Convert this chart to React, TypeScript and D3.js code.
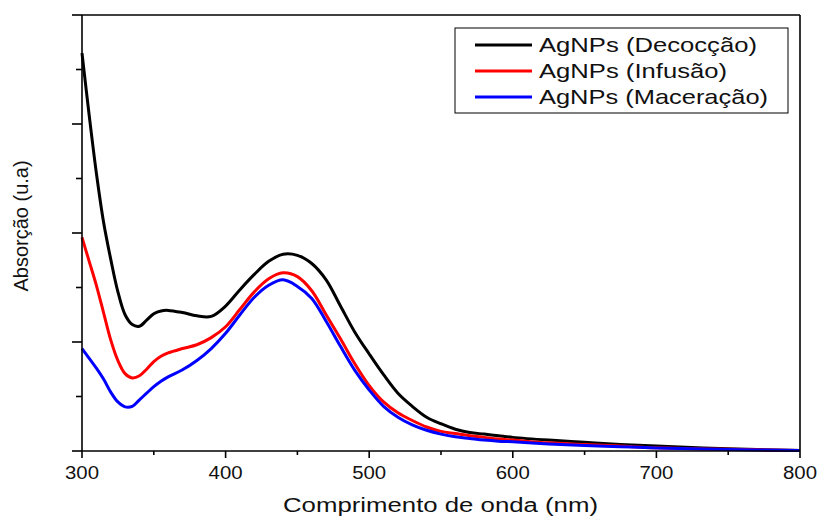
import React from 'react';
import * as d3 from 'd3';

// wavelengths (nm) and absorbance readings for each extraction method
const wavelengths = [300, 305, 310, 315, 320, 325, 330, 335, 340, 345, 350, 355, 360, 370, 380, 390, 400, 410, 420, 430, 440, 450, 460, 470, 480, 490, 500, 510, 520, 530, 540, 550, 560, 570, 580, 590, 600, 625, 650, 675, 700, 750, 800];

const decoccao = [3.65, 3.08, 2.55, 2.10, 1.76, 1.46, 1.25, 1.16, 1.145, 1.20, 1.26, 1.285, 1.29, 1.27, 1.24, 1.235, 1.33, 1.48, 1.62, 1.74, 1.805, 1.795, 1.72, 1.57, 1.33, 1.09, 0.89, 0.70, 0.53, 0.41, 0.31, 0.25, 0.20, 0.17, 0.155, 0.14, 0.125, 0.10, 0.08, 0.06, 0.045, 0.02, 0.005];

const infusao = [1.96, 1.74, 1.52, 1.27, 1.02, 0.83, 0.71, 0.67, 0.69, 0.75, 0.82, 0.87, 0.90, 0.94, 0.975, 1.04, 1.14, 1.30, 1.46, 1.58, 1.635, 1.60, 1.47, 1.25, 1.03, 0.80, 0.60, 0.45, 0.35, 0.28, 0.22, 0.18, 0.16, 0.14, 0.125, 0.11, 0.10, 0.075, 0.06, 0.045, 0.03, 0.015, 0.005];

const maceracao = [0.94, 0.85, 0.76, 0.66, 0.54, 0.45, 0.405, 0.41, 0.47, 0.53, 0.59, 0.64, 0.68, 0.745, 0.83, 0.94, 1.08, 1.25, 1.41, 1.52, 1.57, 1.51, 1.40, 1.19, 0.96, 0.74, 0.56, 0.41, 0.31, 0.24, 0.19, 0.155, 0.13, 0.115, 0.10, 0.09, 0.085, 0.065, 0.05, 0.04, 0.028, 0.013, 0.004];

const seriesNames = ['AgNPs (Decocção)', 'AgNPs (Infusão)', 'AgNPs (Maceração)'];
const seriesColors = ['#000000', '#ff0000', '#0000ff'];
const seriesValues = [decoccao, infusao, maceracao];

const xTickLabels = [300, 400, 500, 600, 700, 800];

const FONT = '"Liberation Sans", Arial, sans-serif';

const App = () => {
  const width = 818;
  const height = 516;
  const plot = { left: 82, right: 800, top: 15, bottom: 451 };

  const x = d3.scaleLinear().domain([300, 800]).range([plot.left, plot.right]);
  const y = d3.scaleLinear().domain([0, 4]).range([plot.bottom, plot.top]);

  const line = d3.line<number>()
    .x((_, i) => x(wavelengths[i]))
    .y(d => y(d))
    .curve(d3.curveCatmullRom.alpha(0.5));

  const xMinor = d3.range(300, 801, 50);
  const yTicks = d3.range(0, 4.01, 0.5);
  const legendWidths = [218, 188, 229];

  return (
    <svg width={width} height={height} style={{ position: 'absolute', left: 0, top: 0, background: '#fff' }}>
      {/* curves */}
      <g fill="none" strokeWidth={3} strokeLinejoin="round">
        {seriesValues.map((vals, i) => (
          <path key={i} d={line(vals) || ''} stroke={seriesColors[i]} />
        ))}
      </g>

      {/* frame */}
      <g stroke="#000" strokeWidth={1.6} fill="none">
        <line x1={plot.left} x2={plot.left} y1={plot.top} y2={plot.bottom} />
        <line x1={plot.left} x2={plot.right} y1={plot.bottom} y2={plot.bottom} />
        <line x1={plot.left} x2={plot.right} y1={plot.top} y2={plot.top} />
        <line x1={plot.right} x2={plot.right} y1={plot.top} y2={plot.bottom} />
        {yTicks.map((t, i) => (
          <line key={'y' + i} x1={plot.left} x2={plot.left - (i % 2 === 0 ? 10 : 6)} y1={y(t)} y2={y(t)} />
        ))}
        {xMinor.map((t, i) => (
          <line key={'x' + i} x1={x(t)} x2={x(t)} y1={plot.bottom} y2={plot.bottom + (i % 2 === 0 ? 7 : 4)} />
        ))}
      </g>

      {/* x tick labels */}
      <g fontFamily={FONT} fontSize={18} fill="#111" textAnchor="middle">
        {xTickLabels.map(t => (
          <text key={t} x={x(t)} y={479} textLength={34} lengthAdjust="spacingAndGlyphs">{t}</text>
        ))}
      </g>

      {/* axis titles */}
      <text x={440.5} y={512} fontFamily={FONT} fontSize={20} fill="#111" textAnchor="middle"
        textLength={315} lengthAdjust="spacingAndGlyphs">Comprimento de onda (nm)</text>
      <text transform="translate(28,226) rotate(-90)" fontFamily={FONT} fontSize={20} fill="#111"
        textAnchor="middle">Absorção (u.a)</text>

      {/* legend */}
      <rect x={455} y={28} width={333} height={85} fill="#fff" stroke="#000" strokeWidth={1} />
      {seriesNames.map((name, i) => {
        const ry = 45 + i * 26;
        return (
          <g key={name}>
            <line x1={475} x2={532} y1={ry} y2={ry} stroke={seriesColors[i]} strokeWidth={3} />
            <text x={539} y={ry + 7} fontFamily={FONT} fontSize={21} fill="#111"
              textLength={legendWidths[i]} lengthAdjust="spacingAndGlyphs">{name}</text>
          </g>
        );
      })}
    </svg>
  );
};

export default App;
